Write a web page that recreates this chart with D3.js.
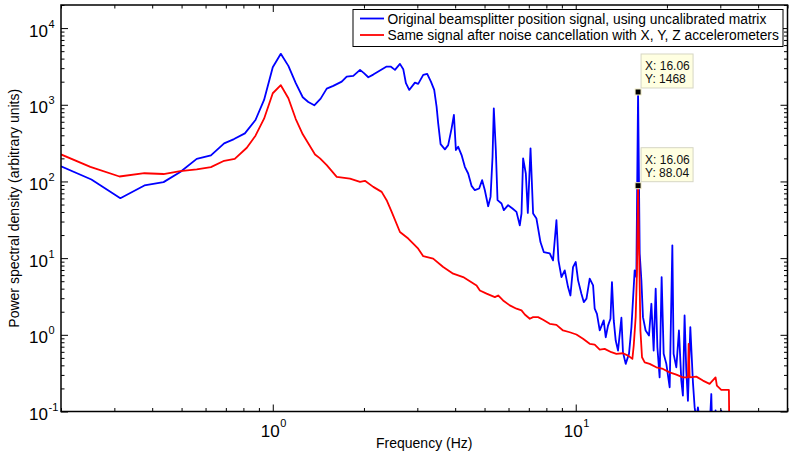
<!DOCTYPE html>
<html>
<head>
<meta charset="utf-8">
<script src="https://cdn.jsdelivr.net/npm/d3@7"></script>
<style>
  html, body { margin: 0; padding: 0; background: #fff; }
  svg { display: block; font-family: "Liberation Sans", Arial, Helvetica, sans-serif; }
</style>
</head>
<body>
<svg id="chart" width="789" height="454"></svg>
<script>
// ---------------- data ----------------
const seriesNames = [
  "Original beamsplitter position signal, using uncalibrated matrix",
  "Same signal after noise cancellation with X, Y, Z accelerometers"
];
const seriesColors = ["#0000ff", "#ff0000"];

const blueFreq = [0.200,0.252,0.314,0.377,0.436,0.495,0.561,0.625,0.691,0.745,0.809,0.877,0.936,1.000,1.063,1.126,1.191,1.256,1.310,1.371,1.439,1.507,1.584,1.689,1.754,1.844,1.941,2.000,2.067,2.146,2.230,2.376,2.449,2.531,2.629,2.696,2.751,2.821,2.946,3.020,3.138,3.234,3.327,3.411,3.473,3.516,3.580,3.700,3.793,3.893,3.962,4.022,4.093,4.200,4.305,4.415,4.530,4.645,4.800,4.910,5.012,5.140,5.234,5.314,5.365,5.448,5.519,5.689,5.790,5.981,6.183,6.374,6.536,6.622,6.704,6.843,6.948,7.092,7.233,7.419,7.648,7.843,8.208,8.416,8.636,8.770,8.973,9.199,9.432,9.605,9.797,10.00,10.18,10.44,10.63,10.85,11.12,11.41,11.55,11.75,12.00,12.37,12.56,12.78,13.02,13.17,13.35,13.55,13.79,14.15,14.32,14.62,14.99,15.27,15.65,15.85,16.06,16.26,16.47,16.67,17.01,17.45,17.77,18.08,18.36,18.60,18.92,19.21,19.51,19.91,20.42,20.84,21.04,21.48,21.91,22.31,22.58,22.87,23.17,23.46,23.89,24.37,24.69,25.00,25.31,26.03,27.66,28.02,28.23,28.94,29.30,30.22,30.50,32.00];
const bluePSD = [158,106,60.5,88.7,98,133,197,219,314,357,424,633,1155,3090,4615,3215,1910,1253,1088,985,1202,1623,1762,2004,2330,2379,2851,2582,2287,2475,2710,3148,3148,2851,3413,2911,1910,1561,1945,1871,2453,2527,2004,1561,944,573,307,262,298,493,736,257,283,221,155,127,87.6,76.9,81.0,104,76.9,47.5,62.9,210,900,257,57,51.6,42.2,49.0,44.4,40.1,26.8,38.2,200,127,38.9,270,38.2,32.8,16.2,12.0,11.5,9.36,31.2,9.36,5.66,6.93,4.19,3.26,7.65,8.89,5.13,3.44,2.67,2.96,5.40,4.41,2.19,1.88,1.14,1.54,0.93,1.32,1.62,4.87,1.54,0.842,0.623,1.67,0.593,0.418,0.565,1.26,6.93,5.66,1468,11.5,5.13,1.70,1.14,0.979,2.54,0.623,3.99,0.688,0.279,5.66,0.565,0.418,0.207,14.7,0.565,0.377,1.14,0.253,0.161,1.79,0.341,0.138,1.26,0.240,0.113,0.08,0.113,0.05,0.06,0.169,0.05,0.103,0.05,0.103,0.05,0.05];

const redFreq = [0.200,0.250,0.312,0.377,0.436,0.495,0.561,0.625,0.691,0.749,0.821,0.877,0.936,1.000,1.063,1.126,1.191,1.256,1.379,1.432,1.507,1.626,1.798,1.941,2.015,2.146,2.288,2.376,2.469,2.629,2.800,3.020,3.138,3.384,3.652,3.940,4.250,4.706,4.826,5.078,5.408,5.545,5.758,6.058,6.374,6.622,6.790,7.053,7.233,7.510,7.802,8.208,8.636,9.080,9.555,10.05,10.57,11.12,11.55,12.00,12.46,13.11,13.62,14.32,14.88,15.38,15.54,15.77,15.93,16.06,16.23,16.35,16.55,16.89,17.54,18.45,19.41,20.42,21.48,22.58,23.46,23.59,23.77,25.00,26.29,27.66,28.94,29.23,30.22,32.03,32.19];
const redPSD = [225,155,116,128,125,136,144,154,186,197,275,395,658,1413,1798,1216,652,412,225,200,163,115,109,98.8,102,85.0,73.1,57.0,40.1,21.9,18.0,13.3,10.6,9.85,7.65,6.27,5.66,4.41,3.79,3.44,3.10,3.26,2.81,2.42,2.19,2.08,1.84,1.62,1.70,1.70,1.57,1.39,1.35,1.14,1.08,1.01,0.887,0.763,0.747,0.643,0.656,0.593,0.565,0.575,0.536,0.486,0.725,1.70,6.93,88.04,6.93,1.14,0.510,0.438,0.418,0.377,0.359,0.324,0.303,0.279,0.279,0.763,0.279,0.285,0.253,0.229,0.279,0.217,0.191,0.191,0.03];

const xDomain = [0.2, 50];
const yDomain = [0.1, 2e4];
const xMajorTicks = [1, 10];
const xMinorTicks = [0.2,0.3,0.4,0.5,0.6,0.7,0.8,0.9,2,3,4,5,6,7,8,9,20,30,40,50];
const xTickExponents = ["0", "1"];
const yMajorTicks = [0.1, 1, 10, 100, 1000, 10000];
const yMinorTicks = [0.2,0.3,0.4,0.5,0.6,0.7,0.8,0.9,2,3,4,5,6,7,8,9,20,30,40,50,60,70,80,90,200,300,400,500,600,700,800,900,2000,3000,4000,5000,6000,7000,8000,9000,20000];
const yTickExponents = ["-1", "0", "1", "2", "3", "4"];

const tipFreq = [16.06, 16.06];
const tipValues = [1468, 88.04];
const tipLabelsY = ["1468", "88.04"];

const xLabel = "Frequency (Hz)";
const yLabel = "Power spectral density (arbitrary units)";

// ---------------- layout ----------------
const W = 789, H = 454;
const L = 61, R = 787.5, T = 5, B = 411.5;

const svg = d3.select("#chart");
const x = d3.scaleLog().domain(xDomain).range([L, R]);
const y = d3.scaleLog().domain(yDomain).range([B, T]);

svg.append("defs").append("clipPath").attr("id", "clip")
  .append("rect").attr("x", L).attr("y", T).attr("width", R - L).attr("height", B - T);

// lines
const line = d3.line().x(d => x(d[0])).y(d => y(d[1]));
const blueData = blueFreq.map((f, i) => [f, bluePSD[i]]);
const redData = redFreq.map((f, i) => [f, redPSD[i]]);
const plot = svg.append("g").attr("clip-path", "url(#clip)");
plot.append("path").datum(blueData).attr("d", line)
  .attr("fill", "none").attr("stroke", seriesColors[0]).attr("stroke-width", 1.8).attr("stroke-linejoin", "round");
plot.append("path").datum(redData).attr("d", line)
  .attr("fill", "none").attr("stroke", seriesColors[1]).attr("stroke-width", 1.8).attr("stroke-linejoin", "round");

// axes (ticks inward on all four sides)
function addAxis(gen, tr) {
  const g = svg.append("g").attr("transform", tr).call(gen);
  g.select(".domain").remove();
  g.selectAll("line").attr("stroke", "#000").attr("stroke-width", 1);
  g.selectAll("text").remove();
  return g;
}
const MAJ = 7, MIN = 3.5;
addAxis(d3.axisBottom(x).tickValues(xMajorTicks).tickSize(-MAJ).tickFormat(""), `translate(0,${B})`);
addAxis(d3.axisBottom(x).tickValues(xMinorTicks).tickSize(-MIN).tickFormat(""), `translate(0,${B})`);
addAxis(d3.axisTop(x).tickValues(xMajorTicks).tickSize(-MAJ).tickFormat(""), `translate(0,${T})`);
addAxis(d3.axisTop(x).tickValues(xMinorTicks).tickSize(-MIN).tickFormat(""), `translate(0,${T})`);
addAxis(d3.axisLeft(y).tickValues(yMajorTicks).tickSize(-MAJ).tickFormat(""), `translate(${L},0)`);
addAxis(d3.axisLeft(y).tickValues(yMinorTicks).tickSize(-MIN).tickFormat(""), `translate(${L},0)`);
addAxis(d3.axisRight(y).tickValues(yMajorTicks).tickSize(-MAJ).tickFormat(""), `translate(${R},0)`);
addAxis(d3.axisRight(y).tickValues(yMinorTicks).tickSize(-MIN).tickFormat(""), `translate(${R},0)`);

svg.append("rect").attr("x", L).attr("y", T).attr("width", R - L).attr("height", B - T)
  .attr("fill", "none").attr("stroke", "#000").attr("stroke-width", 1.5);

// tick labels
const baseSize = 17, supSize = 11;
xMajorTicks.forEach((v, i) => {
  const px = x(v);
  svg.append("text").attr("x", px + 7).attr("y", B + 25).attr("text-anchor", "end")
    .attr("font-size", baseSize).attr("fill", "#000").text("10");
  svg.append("text").attr("x", px + 7.5).attr("y", B + 15.5).attr("text-anchor", "start")
    .attr("font-size", supSize).attr("fill", "#000").text(xTickExponents[i]);
});
yMajorTicks.forEach((v, i) => {
  const py = y(v);
  svg.append("text").attr("x", 48).attr("y", py + 8.5).attr("text-anchor", "end")
    .attr("font-size", baseSize).attr("fill", "#000").text("10");
  svg.append("text").attr("x", 48.5).attr("y", py - 0.5).attr("text-anchor", "start")
    .attr("font-size", supSize).attr("fill", "#000").text(yTickExponents[i]);
});

// axis labels
svg.append("text").attr("x", (L + R) / 2).attr("y", 448).attr("text-anchor", "middle")
  .attr("font-size", 14).attr("fill", "#000").text(xLabel);
svg.append("text").attr("transform", `translate(18.5,${(T + B) / 2}) rotate(-90)`)
  .attr("text-anchor", "middle").attr("font-size", 14).attr("fill", "#000").text(yLabel);

// legend
const lg = svg.append("g");
lg.append("rect").attr("x", 353).attr("y", 9.5).attr("width", 430).attr("height", 37)
  .attr("fill", "#fff").attr("stroke", "#000").attr("stroke-width", 1);
seriesNames.forEach((name, i) => {
  const ly = 18.5 + i * 16.5;
  lg.append("line").attr("x1", 360).attr("x2", 384).attr("y1", ly).attr("y2", ly)
    .attr("stroke", seriesColors[i]).attr("stroke-width", 1.8);
  lg.append("text").attr("x", 387.5).attr("y", ly + 5).attr("font-size", 13.8)
    .attr("fill", "#000").text(name);
});

// data tips
tipFreq.forEach((f, i) => {
  const px = x(f), py = y(tipValues[i]);
  const g = svg.append("g");
  g.append("rect").attr("x", px + 3).attr("y", py - 38).attr("width", 52).attr("height", 34)
    .attr("fill", "#ffffe1").attr("stroke", "#d6d6c4").attr("stroke-width", 1);
  g.append("text").attr("x", px + 7).attr("y", py - 22).attr("font-size", 12).attr("fill", "#111")
    .text("X: " + f.toFixed(2));
  g.append("text").attr("x", px + 7).attr("y", py - 9).attr("font-size", 12).attr("fill", "#111")
    .text("Y: " + tipLabelsY[i]);
  g.append("rect").attr("x", px - 3).attr("y", py - 3).attr("width", 6).attr("height", 6)
    .attr("fill", "#000").attr("stroke", "#f4f0c8").attr("stroke-width", 1);
});
</script>
</body>
</html>
